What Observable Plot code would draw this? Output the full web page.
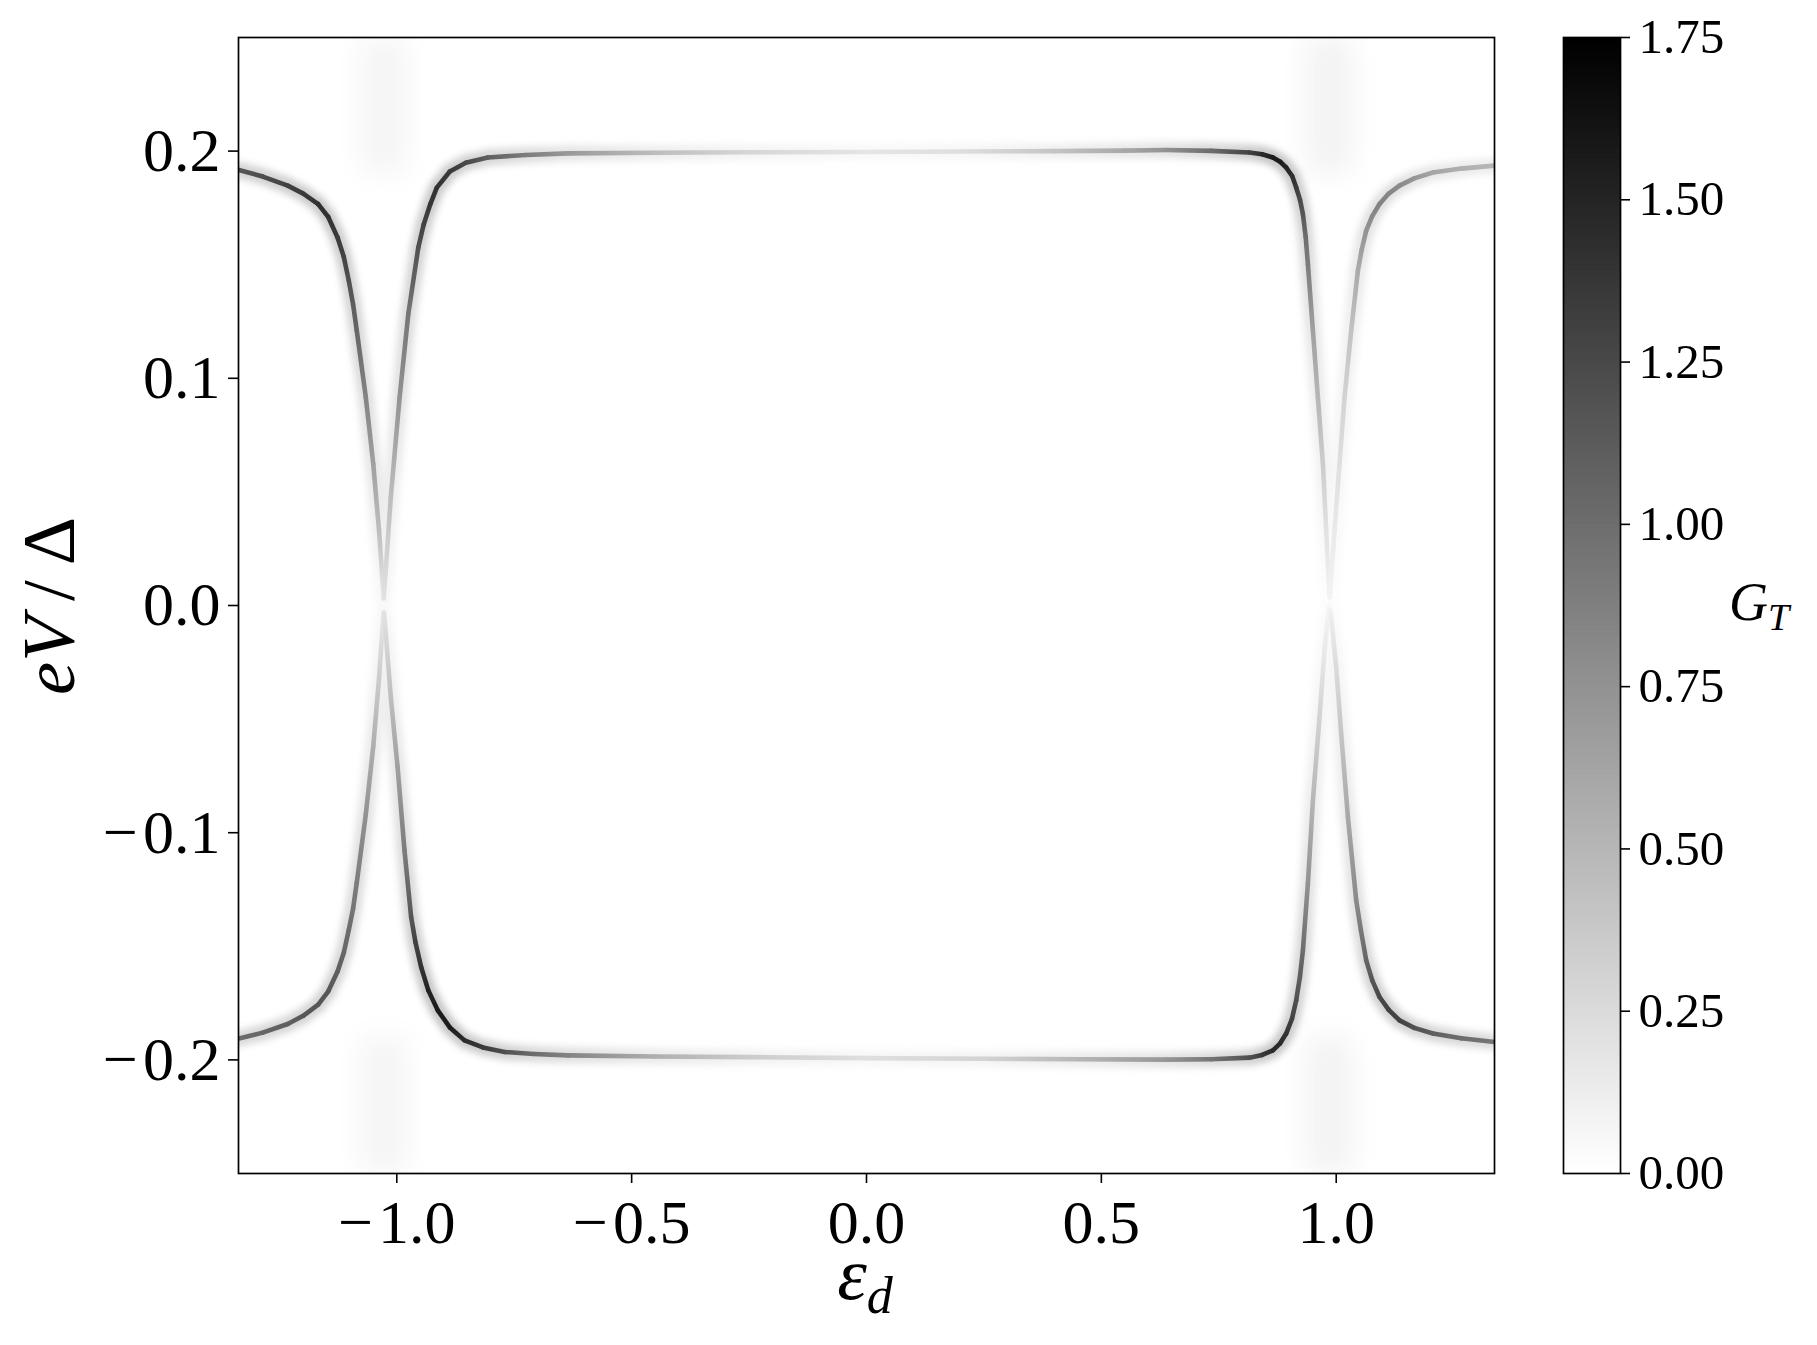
<!DOCTYPE html>
<html><head><meta charset="utf-8">
<script src="https://cdn.jsdelivr.net/npm/d3@7"></script>
<script src="https://cdn.jsdelivr.net/npm/@observablehq/plot@0.6"></script>
<style>
html,body{margin:0;padding:0;background:#fff;}
#wrap{position:relative;width:1817px;height:1345px;font-family:"Liberation Serif","Times New Roman",serif;color:#000;}
.abs{position:absolute;line-height:1;white-space:nowrap;}
.it{font-style:italic;}
</style></head><body><div id="wrap"></div>
<script>
// ---- Data: [ε_d, eV/Δ, G_T] along each conductance ridge ----
const leftOuterUpper = [
  [-1.3361,0.1917,1.15],[-1.2854,0.1888,1.22],[-1.2322,0.1848,1.3],[-1.1992,0.1813,1.35],
  [-1.1673,0.1767,1.4],[-1.1459,0.1710,1.4],[-1.1261,0.1620,1.35],[-1.1129,0.1535,1.28],
  [-1.1022,0.1430,1.2],[-1.0931,0.1326,1.12],[-1.0852,0.1210,1.05],[-1.0660,0.0917,0.85],
  [-1.0501,0.0623,0.65],[-1.0378,0.0330,0.45],[-1.0277,0.0031,0.15]
];
const topRidge = [
  [-1.0277,0.0031,0.2],[-1.0128,0.0476,0.45],[-0.9940,0.0916,0.75],[-0.9755,0.1283,0.95],
  [-0.9542,0.1576,1.2],[-0.9429,0.1676,1.3],[-0.9286,0.1767,1.38],[-0.9148,0.1839,1.4],
  [-0.8871,0.1910,1.35],[-0.8530,0.1949,1.25],[-0.8062,0.1972,1.1],[-0.7252,0.1983,0.9],
  [-0.6358,0.1990,0.7],[-0.45,0.1993,0.45],[-0.25,0.1995,0.28],[0.0,0.1996,0.18],
  [0.2,0.1998,0.22],[0.4,0.2000,0.4],[0.55,0.2002,0.6],[0.6379,0.2005,0.75],
  [0.7338,0.2001,1.0],[0.8153,0.1994,1.3],[0.8424,0.1986,1.45],[0.8652,0.1972,1.55],
  [0.8807,0.1953,1.55],[0.8935,0.1928,1.5],[0.9063,0.1890,1.42],[0.9148,0.1840,1.35],
  [0.9229,0.1786,1.25],[0.9291,0.1723,1.15],[0.9350,0.1623,1.0],[0.9397,0.1503,0.9],
  [0.9504,0.1210,0.65],[0.9610,0.0916,0.5],[0.9717,0.0623,0.35],[0.9787,0.0330,0.2],
  [0.9857,0.0037,0.08]
];
const rightOuterUpper = [
  [0.9864,0.0037,0.08],[0.9964,0.0330,0.15],[1.0070,0.0623,0.22],[1.0177,0.0916,0.3],
  [1.0319,0.1210,0.42],[1.0462,0.1474,0.58],[1.0543,0.1566,0.66],[1.0639,0.1650,0.74],
  [1.0767,0.1714,0.8],[1.0922,0.1767,0.85],[1.1118,0.1813,0.83],[1.1348,0.1848,0.8],
  [1.1661,0.1880,0.72],[1.2060,0.1906,0.62],[1.2662,0.1923,0.55],[1.3365,0.1936,0.5]
];
const leftOuterLower = [
  [-1.3361,-0.1906,1.0],[-1.2854,-0.1880,1.05],[-1.2322,-0.1842,1.1],[-1.1992,-0.1806,1.15],
  [-1.1673,-0.1757,1.15],[-1.1459,-0.1698,1.15],[-1.1261,-0.1611,1.1],[-1.1129,-0.1528,1.05],
  [-1.1022,-0.1428,1.0],[-1.0931,-0.1335,0.95],[-1.0852,-0.1220,0.9],[-1.0660,-0.0920,0.75],
  [-1.0501,-0.0620,0.55],[-1.0378,-0.0320,0.35],[-1.0281,-0.0031,0.15]
];
const bottomRidge = [
  [-1.0271,-0.0031,0.2],[-1.0121,-0.0418,0.45],[-0.9983,-0.0711,0.65],[-0.9836,-0.1078,0.9],
  [-0.9695,-0.1371,1.15],[-0.9604,-0.1481,1.3],[-0.9482,-0.1591,1.4],[-0.9329,-0.1694,1.5],
  [-0.9127,-0.1782,1.55],[-0.8871,-0.1857,1.55],[-0.8558,-0.1914,1.45],[-0.8168,-0.1945,1.35],
  [-0.7706,-0.1965,1.2],[-0.7082,-0.1974,1.0],[-0.6358,-0.1980,0.85],[-0.45,-0.1985,0.55],
  [-0.25,-0.1988,0.35],[0.0,-0.1992,0.22],[0.25,-0.1995,0.3],[0.45,-0.1997,0.5],
  [0.6379,-0.1999,0.72],[0.7338,-0.1997,0.95],[0.8153,-0.1990,1.2],[0.8424,-0.1978,1.35],
  [0.8652,-0.1958,1.45],[0.8807,-0.1927,1.45],[0.8935,-0.1884,1.4],[0.9059,-0.1819,1.3],
  [0.9148,-0.1738,1.2],[0.9229,-0.1632,1.1],[0.9291,-0.1518,1.0],[0.9397,-0.1224,0.75],
  [0.9504,-0.0858,0.5],[0.9645,-0.0491,0.3],[0.9751,-0.0198,0.15],[0.9844,-0.0007,0.06]
];
const rightOuterLower = [
  [0.9879,-0.0022,0.1],[1.0000,-0.0271,0.25],[1.0106,-0.0564,0.4],[1.0249,-0.0931,0.6],
  [1.0426,-0.1298,0.8],[1.0526,-0.1430,0.92],[1.0639,-0.1562,1.05],[1.0767,-0.1650,1.15],
  [1.0922,-0.1723,1.25],[1.1118,-0.1780,1.3],[1.1348,-0.1826,1.3],[1.1661,-0.1859,1.2],
  [1.2060,-0.1884,1.1],[1.2662,-0.1905,1.0],[1.3372,-0.1921,0.95]
];
// faint vertical glows near the crossings, at the top and bottom edges
const glowX  = [-1.028, -1.028, 0.985, 0.985];
const glowY1 = [0.19, -0.19, 0.19, -0.19];
const glowY2 = [0.25, -0.25, 0.25, -0.25];
const glowG  = [0.07, 0.07, 0.08, 0.08];

const xTicks = [-1.0, -0.5, 0.0, 0.5, 1.0];
const yTicks = [-0.2, -0.1, 0.0, 0.1, 0.2];
const cbTicks = [0, 0.25, 0.5, 0.75, 1.0, 1.25, 1.5, 1.75];
const gMax = 1.75;

// ---- build ----
const branches = {leftOuterUpper, topRidge, rightOuterUpper, leftOuterLower, bottomRidge, rightOuterLower};
const segments = [];
for (const [name, pts] of Object.entries(branches)) {
  for (let i = 0; i < pts.length - 1; i++) {
    segments.push({branch: name, x1: pts[i][0], y1: pts[i][1], x2: pts[i+1][0], y2: pts[i+1][1],
      gA: pts[i][2], gB: pts[i+1][2], g: (pts[i][2] + pts[i+1][2]) / 2});
  }
}
const glows = glowX.map((x, i) => ({x, y1: glowY1[i], y2: glowY2[i], g: glowG[i]}));

const colorScale = {type: "linear", domain: [0, gMax], range: ["#ffffff", "#000000"], interpolate: "rgb"};
const fmt1 = d => (d < 0 ? "\u2212\u200A" : "") + Math.abs(d).toFixed(1);
const serif = '"Liberation Serif","Times New Roman",serif';

const main = Plot.plot({
  width: 1540, height: 1345,
  marginLeft: 238, marginRight: 46, marginTop: 37, marginBottom: 172,
  style: {fontFamily: serif, fontSize: "62px", background: "transparent", color: "black", overflow: "visible"},
  x: {domain: [-1.337, 1.337], ticks: xTicks, tickFormat: fmt1, tickSize: 10, tickPadding: 15, label: null},
  y: {domain: [-0.25, 0.25], ticks: yTicks, tickFormat: fmt1, tickSize: 10, tickPadding: 8, label: null},
  color: colorScale,
  marks: [
    Plot.ruleX(glows, {x: "x", y1: "y1", y2: "y2", stroke: "g", strokeWidth: 46, ariaDescription: "glow"}),
    Plot.link(segments, {x1: "x1", y1: "y1", x2: "x2", y2: "y2", stroke: "g", strokeWidth: 16, strokeLinecap: "round", ariaDescription: "halo"}),
    Plot.link(segments, {x1: "x1", y1: "y1", x2: "x2", y2: "y2", stroke: "g", strokeWidth: 4.6, strokeLinecap: "round", ariaDescription: "core"}),
    Plot.frame({stroke: "black", strokeWidth: 1.7})
  ]
});

const ramp = d3.range(0, gMax, 0.0025);
const cbar = Plot.plot({
  width: 277, height: 1345,
  marginLeft: 23, marginRight: 197, marginTop: 37, marginBottom: 172,
  style: {fontFamily: serif, fontSize: "49px", background: "transparent", color: "black", overflow: "visible"},
  x: {domain: [0, 1], axis: null},
  y: {domain: [0, gMax], axis: "right", ticks: cbTicks, tickFormat: d => d.toFixed(2), tickSize: 9, tickPadding: 9, label: null},
  color: colorScale,
  marks: [
    Plot.rect(ramp, {x1: d => 0, x2: d => 1, y1: d => d, y2: d => Math.min(gMax, d + 0.005), fill: d => d}),
    Plot.frame({stroke: "black", strokeWidth: 1.7})
  ]
});

const wrap = document.getElementById("wrap");
function place(el, left, top) { el.style.position = "absolute"; el.style.left = left + "px"; el.style.top = top + "px"; wrap.appendChild(el); }
place(main, 0, 0);
place(cbar, 1540, 0);

// soft blur + smooth colour along each ridge segment (colours from Plot's own scales)
const svg = main.tagName.toLowerCase() === "svg" ? main : main.querySelector("svg");
const NS = "http://www.w3.org/2000/svg";
const defs = document.createElementNS(NS, "defs");
defs.innerHTML = `
  <filter id="bHalo" filterUnits="userSpaceOnUse" x="0" y="0" width="1540" height="1345"><feGaussianBlur stdDeviation="3.5"/></filter>
  <filter id="bCore" filterUnits="userSpaceOnUse" x="0" y="0" width="1540" height="1345"><feGaussianBlur stdDeviation="0.6"/></filter>
  <filter id="bGlow" filterUnits="userSpaceOnUse" x="0" y="0" width="1540" height="1345"><feGaussianBlur stdDeviation="14"/></filter>
  <clipPath id="frameClip"><rect x="238" y="37" width="1256" height="1136"/></clipPath>`;
svg.insertBefore(defs, svg.firstChild);
const sx = main.scale("x"), sy = main.scale("y"), sc = main.scale("color");
const setG = (desc, filt, op, grad) => svg.querySelectorAll(`g[aria-description="${desc}"]`).forEach(g => {
  g.setAttribute("filter", `url(#${filt})`);
  g.setAttribute("clip-path", "url(#frameClip)");
  if (op != null) g.setAttribute("opacity", op);
  if (grad) {
    g.querySelectorAll("path").forEach((p, i) => {
      const s = segments[i];
      if (!s) return;
      const lg = document.createElementNS(NS, "linearGradient");
      const id = `${desc}G${i}`;
      lg.setAttribute("id", id);
      lg.setAttribute("gradientUnits", "userSpaceOnUse");
      lg.setAttribute("x1", sx.apply(s.x1)); lg.setAttribute("y1", sy.apply(s.y1));
      lg.setAttribute("x2", sx.apply(s.x2)); lg.setAttribute("y2", sy.apply(s.y2));
      lg.innerHTML = `<stop offset="0" stop-color="${sc.apply(s.gA)}"/><stop offset="1" stop-color="${sc.apply(s.gB)}"/>`;
      defs.appendChild(lg);
      p.setAttribute("stroke", `url(#${id})`);
    });
  }
});
setG("glow", "bGlow", 1, false);
setG("halo", "bHalo", 0.25, true);
setG("core", "bCore", null, true);
[main, cbar].forEach(c => {
  const s = c.tagName.toLowerCase() === "svg" ? c : c.querySelector("svg");
  s.querySelectorAll('g[aria-label$="tick"]').forEach(g => g.setAttribute("stroke-width", 1.6));
});

// axis titles and colorbar label (real text)
const xl = document.createElement("div");
xl.className = "abs";
xl.style.fontSize = "75px";
xl.style.lineHeight = "0.5";
xl.innerHTML = '<span class="it">ε</span><span class="it" style="font-size:52px;position:relative;top:14px;">d</span>';
place(xl, 865, 1255);
xl.style.transform = "translateX(-50%)";

const yl = document.createElement("div");
yl.className = "abs";
yl.style.fontSize = "75px";
yl.innerHTML = '<span class="it">eV</span><span>\u2009/\u2009</span><span>Δ</span>';
place(yl, 48, 606);
yl.style.transform = "translate(-50%,-50%) rotate(-90deg)";

const gl = document.createElement("div");
gl.className = "abs";
gl.style.fontSize = "54px";
gl.innerHTML = '<span class="it">G</span><span class="it" style="font-size:38px;position:relative;top:10px;">T</span>';
place(gl, 1729, 575);
</script>
</body></html>
